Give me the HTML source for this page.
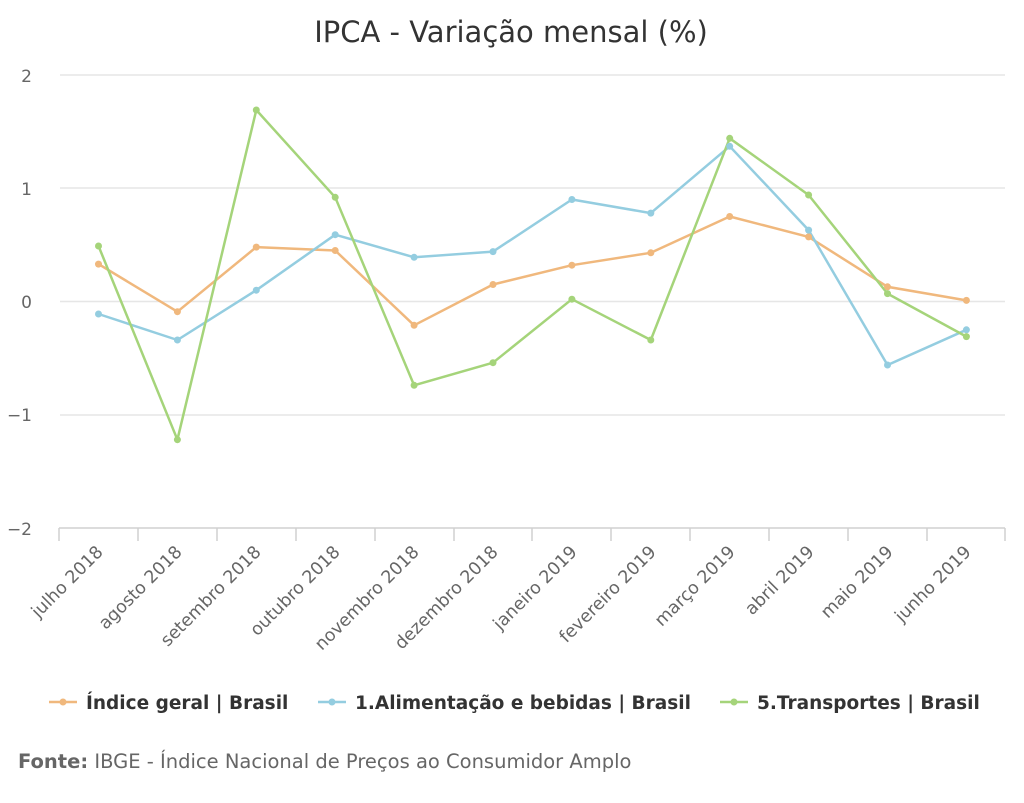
<!DOCTYPE html>
<html><head><meta charset="utf-8"><style>
body{margin:0;background:#fff;}
svg text{font-family:"DejaVu Sans","Liberation Sans",sans-serif;}
</style></head><body>
<svg width="1024" height="798" xmlns="http://www.w3.org/2000/svg">
<rect width="1024" height="798" fill="#fff"/>
<text x="511" y="42" text-anchor="middle" font-size="29" fill="#333">IPCA - Variação mensal (%)</text>
<g stroke="#e6e6e6" stroke-width="1.5">
<line x1="60" x2="1005" y1="75" y2="75"/>
<line x1="60" x2="1005" y1="188" y2="188"/>
<line x1="60" x2="1005" y1="301.5" y2="301.5"/>
<line x1="60" x2="1005" y1="415" y2="415"/>
</g>
<g stroke="#d0d0d0" stroke-width="1.5">
<line x1="59" x2="1005" y1="528" y2="528"/>
<line x1="59" x2="59" y1="528" y2="541"/><line x1="138" x2="138" y1="528" y2="541"/><line x1="217" x2="217" y1="528" y2="541"/><line x1="296" x2="296" y1="528" y2="541"/><line x1="375" x2="375" y1="528" y2="541"/><line x1="454" x2="454" y1="528" y2="541"/><line x1="532" x2="532" y1="528" y2="541"/><line x1="611" x2="611" y1="528" y2="541"/><line x1="690" x2="690" y1="528" y2="541"/><line x1="769" x2="769" y1="528" y2="541"/><line x1="848" x2="848" y1="528" y2="541"/><line x1="927" x2="927" y1="528" y2="541"/><line x1="1005" x2="1005" y1="528" y2="541"/>
</g>
<g font-size="17" fill="#666" text-anchor="end">
<text x="32" y="82">2</text><text x="32" y="195">1</text><text x="32" y="308">0</text><text x="32" y="421">−1</text><text x="32" y="535">−2</text>
</g>
<g font-size="17.5" fill="#666" text-anchor="end">
<text transform="translate(104,553) rotate(-45)">julho 2018</text>
<text transform="translate(183,553) rotate(-45)">agosto 2018</text>
<text transform="translate(262,553) rotate(-45)">setembro 2018</text>
<text transform="translate(341,553) rotate(-45)">outubro 2018</text>
<text transform="translate(420,553) rotate(-45)">novembro 2018</text>
<text transform="translate(499,553) rotate(-45)">dezembro 2018</text>
<text transform="translate(578,553) rotate(-45)">janeiro 2019</text>
<text transform="translate(657,553) rotate(-45)">fevereiro 2019</text>
<text transform="translate(736,553) rotate(-45)">março 2019</text>
<text transform="translate(815,553) rotate(-45)">abril 2019</text>
<text transform="translate(894,553) rotate(-45)">maio 2019</text>
<text transform="translate(972,553) rotate(-45)">junho 2019</text>
</g>
<g fill="none" stroke-width="2.5" stroke-linejoin="round">
<polyline stroke="#f0b87d" points="98.5,264.1 177.4,311.7 256.3,247.1 335.2,250.5 414.1,325.3 493,284.5 571.9,265.2 650.8,252.8 729.7,216.5 808.6,236.9 887.5,286.8 966.4,300.4"/>
<polyline stroke="#94cde0" points="98.5,314 177.4,340 256.3,290.2 335.2,234.7 414.1,257.3 493,251.6 571.9,199.5 650.8,213.1 729.7,146.3 808.6,230.1 887.5,365 966.4,329.8"/>
<polyline stroke="#a5d47a" points="98.5,246 177.4,439.7 256.3,110 335.2,197.3 414.1,385.3 493,362.7 571.9,299.2 650.8,340 729.7,138.3 808.6,195 887.5,293.6 966.4,336.6"/>
</g>
<g fill="#f0b87d"><circle cx="98.5" cy="264.1" r="3.5"/><circle cx="177.4" cy="311.7" r="3.5"/><circle cx="256.3" cy="247.1" r="3.5"/><circle cx="335.2" cy="250.5" r="3.5"/><circle cx="414.1" cy="325.3" r="3.5"/><circle cx="493" cy="284.5" r="3.5"/><circle cx="571.9" cy="265.2" r="3.5"/><circle cx="650.8" cy="252.8" r="3.5"/><circle cx="729.7" cy="216.5" r="3.5"/><circle cx="808.6" cy="236.9" r="3.5"/><circle cx="887.5" cy="286.8" r="3.5"/><circle cx="966.4" cy="300.4" r="3.5"/></g>
<g fill="#94cde0"><circle cx="98.5" cy="314" r="3.5"/><circle cx="177.4" cy="340" r="3.5"/><circle cx="256.3" cy="290.2" r="3.5"/><circle cx="335.2" cy="234.7" r="3.5"/><circle cx="414.1" cy="257.3" r="3.5"/><circle cx="493" cy="251.6" r="3.5"/><circle cx="571.9" cy="199.5" r="3.5"/><circle cx="650.8" cy="213.1" r="3.5"/><circle cx="729.7" cy="146.3" r="3.5"/><circle cx="808.6" cy="230.1" r="3.5"/><circle cx="887.5" cy="365" r="3.5"/><circle cx="966.4" cy="329.8" r="3.5"/></g>
<g fill="#a5d47a"><circle cx="98.5" cy="246" r="3.5"/><circle cx="177.4" cy="439.7" r="3.5"/><circle cx="256.3" cy="110" r="3.5"/><circle cx="335.2" cy="197.3" r="3.5"/><circle cx="414.1" cy="385.3" r="3.5"/><circle cx="493" cy="362.7" r="3.5"/><circle cx="571.9" cy="299.2" r="3.5"/><circle cx="650.8" cy="340" r="3.5"/><circle cx="729.7" cy="138.3" r="3.5"/><circle cx="808.6" cy="195" r="3.5"/><circle cx="887.5" cy="293.6" r="3.5"/><circle cx="966.4" cy="336.6" r="3.5"/></g>
<g font-size="18.5" font-weight="bold" fill="#333">
<line x1="49" x2="77" y1="702" y2="702" stroke="#f0b87d" stroke-width="2.5"/><circle cx="63" cy="702" r="3.5" fill="#f0b87d"/>
<text x="86" y="709">Índice geral | Brasil</text>
<line x1="318" x2="346" y1="702" y2="702" stroke="#94cde0" stroke-width="2.5"/><circle cx="332" cy="702" r="3.5" fill="#94cde0"/>
<text x="355" y="709">1.Alimentação e bebidas | Brasil</text>
<line x1="720" x2="748" y1="702" y2="702" stroke="#a5d47a" stroke-width="2.5"/><circle cx="734" cy="702" r="3.5" fill="#a5d47a"/>
<text x="757" y="709">5.Transportes | Brasil</text>
</g>
<text x="18" y="768" font-size="19.5" fill="#666"><tspan font-weight="bold">Fonte:</tspan> IBGE - Índice Nacional de Preços ao Consumidor Amplo</text>
</svg>
</body></html>
